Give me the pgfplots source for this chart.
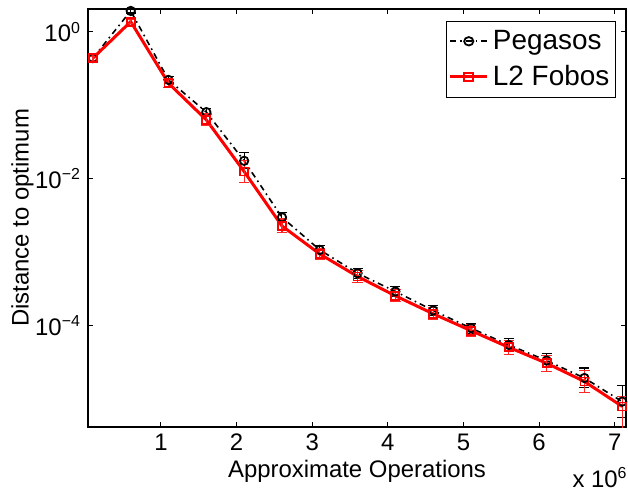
\documentclass[border=0pt]{standalone}
\usepackage{fontspec}
\setmainfont{Liberation Sans}
\usepackage{pgfplots}
\usepackage{pgfplotstable}
\pgfplotsset{compat=1.18}
\pgfplotstableread{
x y ep em
0.1 0.44 0.029 0.027
0.6 1.93 0.12 0.12
1.1 0.222 0.022 0.020
1.6 0.081 0.011 0.0096
2.1 0.0176 0.0050 0.0039
2.6 0.0030 0.00051 0.00044
3.1 0.00108 0.000145 0.000127
3.6 5.2e-4 8.8e-5 7.5e-5
4.1 2.93e-4 5.0e-5 4.2e-5
4.6 1.62e-4 2.75e-5 2.35e-5
5.1 9.3e-5 1.58e-5 1.35e-5
5.6 5.5e-5 1.14e-5 0.94e-5
6.1 3.37e-5 0.83e-5 0.66e-5
6.6 1.95e-5 0.72e-5 0.52e-5
7.1 9.3e-6 0.6e-5 0.37e-5
}\pegasos
\pgfplotstableread{
x y ep em
0.1 0.44 0.029 0.027
0.6 1.38 0.09 0.085
1.1 0.20 0.027 0.024
1.6 0.0635 0.0131 0.0109
2.1 0.0126 0.0052 0.0037
2.6 0.00229 0.00056 0.00045
3.1 0.00095 1.6e-4 1.4e-4
3.6 4.7e-4 9.7e-5 8.0e-5
4.1 2.56e-4 5.3e-5 4.4e-5
4.6 1.46e-4 3.0e-5 2.5e-5
5.1 8.6e-5 1.78e-5 1.47e-5
5.6 5.1e-5 1.25e-5 1.0e-5
6.1 3.1e-5 0.88e-5 0.69e-5
6.6 1.75e-5 0.72e-5 0.51e-5
7.1 8.0e-6 0.3e-5 0.55e-5
}\fobos
\begin{document}
\begin{tikzpicture}
\begin{axis}[
  scale only axis, width=269bp, height=209bp,
  xmin=0.035, xmax=7.15, ymode=log, ymin=4.2e-6, ymax=2.05,
  xtick={1,2,3,4,5,6,7},
  ytick={1e-4,1e-2,1},
  yticklabels={10\textsuperscript{−4},10\textsuperscript{−2},10\textsuperscript{0}},
  yminorticks=false, xminorticks=false,
  tick align=inside, major tick length=2.5bp,
  /pgf/number format/assume math mode=true,
  tick label style={font=\fontsize{12}{14}\selectfont},
  label style={font=\fontsize{12}{14}\selectfont},
  xlabel={Approximate Operations},
  ylabel={Distance to optimum},
  ylabel style={yshift=-6bp},
  xlabel style={yshift=2bp},
  axis line style={line width=0.6bp},
  tick style={line width=0.5bp, black},
  legend style={at={(rel axis cs:0.981,0.972)}, anchor=north east,
    font=\fontsize{14}{16}\selectfont, legend cell align=left,
    draw=black, line width=0.5bp, inner xsep=1bp, inner ysep=2.5bp, row sep=2.5bp},
  legend image post style={xscale=1.1},
]
\addplot[black, line width=0.8bp, dash dot, mark=o, mark size=2.1bp,
  mark options={solid, line width=0.9bp},
  error bars/.cd, y dir=both, y explicit,
  error bar style={solid, black, line width=0.55bp},
  error mark options={rotate=90, mark size=2.5bp, black, line width=0.55bp}]
  table[x=x, y=y, y error plus=ep, y error minus=em]{\pegasos};
\addlegendentry{Pegasos}
\addplot[red, line width=1.5bp, mark=square, mark size=2bp,
  mark options={solid, line width=0.9bp},
  error bars/.cd, y dir=both, y explicit,
  error bar style={solid, red!85!white, line width=0.6bp},
  error mark options={rotate=90, mark size=2.6bp, red!85!white, line width=0.6bp}]
  table[x=x, y=y, y error plus=ep, y error minus=em]{\fobos};
\addlegendentry{L2 Fobos}
\coordinate (bl) at (rel axis cs:0,0);
\coordinate (tr) at (rel axis cs:1,1);
\coordinate (br) at (rel axis cs:1,0);
\end{axis}
\node[anchor=base east, inner sep=0pt, font=\fontsize{12}{14}\selectfont] at ([shift={(1bp,-30bp)}]br) {x 10\textsuperscript{6}};
\pgfresetboundingbox
\path[use as bounding box] ([shift={(-44bp,-31bp)}]bl) rectangle ([shift={(1bp,4.5bp)}]tr);
\end{tikzpicture}
\end{document}
